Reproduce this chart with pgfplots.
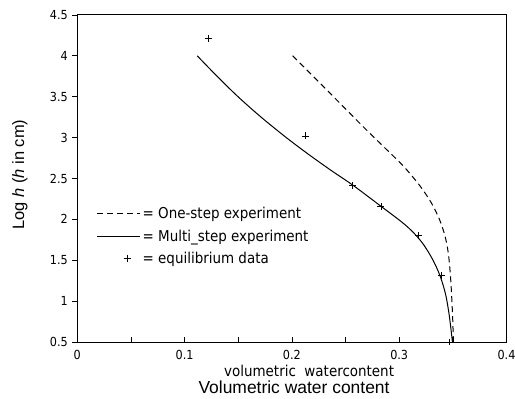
\documentclass[border=0pt]{standalone}
\usepackage{fontspec}
\setmainfont{Liberation Sans}
\newfontfamily\din{DejaVu Sans Condensed}
\usepackage{pgfplots}
\pgfplotsset{compat=1.18}
\pgfplotsset{
  lineleg/.style={legend image code/.code={\draw[##1] (0pt,0pt) -- (43pt,0pt);}},
  markleg/.style={legend image code/.code={\path[draw=none] (0pt,0pt) -- (43pt,0pt);\draw[##1] plot[only marks] coordinates {(30pt,0pt)};}},
}
\begin{document}
\begin{tikzpicture}[x=1pt,y=1pt]
\path[use as bounding box] (-77.5,-57) rectangle (439,343);
\begin{axis}[
  scale only axis, width=430.5pt, height=328pt,
  at={(0,0)}, anchor=south west,
  xmin=0, xmax=0.4, ymin=0.5, ymax=4.5,
  xtick={0,0.1,0.2,0.3,0.4},
  xticklabels={0,0.1,0.2,0.3,0.4},
  minor xtick={0.05,0.15,0.25,0.35},
  ytick={0.5,1,1.5,2,2.5,3,3.5,4,4.5},
  yticklabels={0.5,1,1.5,2,2.5,3,3.5,4,4.5},
  tick align=inside,
  xtick pos=bottom, ytick pos=left,
  major tick length=5pt, minor tick length=5pt,
  ytick style={xshift=-5pt},
  /pgf/number format/assume math mode=true,
  tick label style={font=\din\fontsize{12.5}{12.5}\selectfont},
  yticklabel style={xshift=-6pt},
  xticklabel style={yshift=-4.5pt},
  axis line style={line width=1pt},
  tick style={line width=0.8pt, black},
  clip=false,
  legend cell align=left,
  legend style={at={(rel axis cs:0.045,0.418)}, anchor=north west, draw=none, fill=none,
    font=\din\fontsize{15}{15}\selectfont, row sep=5.5pt, inner sep=0pt},
]
\addplot[black, line width=1pt, dash pattern=on 6pt off 4pt, smooth, lineleg]
  coordinates {
  (0.2007,4.00) (0.235,3.55) (0.269,3.10) (0.2995,2.71) (0.3074,2.60) (0.3199,2.40)
  (0.3300,2.20) (0.3375,2.00) (0.3426,1.80) (0.3456,1.60) (0.3472,1.40) (0.3483,1.20)
  (0.3491,1.00) (0.3498,0.80) (0.3505,0.50)
  };
\addlegendentry{= One-step experiment}
\addplot[black, line width=1pt, smooth, lineleg]
  coordinates {
  (0.1118,4.00) (0.1303,3.75) (0.1498,3.50) (0.1713,3.25) (0.1948,3.00) (0.215,2.80)
  (0.2364,2.60) (0.2566,2.42) (0.279,2.20) (0.2992,2.00) (0.3084,1.90) (0.316,1.80)
  (0.3222,1.70) (0.3272,1.60) (0.3315,1.50) (0.3352,1.40) (0.3383,1.30) (0.3408,1.20)
  (0.3429,1.10) (0.3445,1.00) (0.3469,0.80) (0.3496,0.50)
  };
\addlegendentry{= Multi\_step experiment}
\addplot[black, only marks, mark=+, mark size=3.5pt, line width=0.9pt, markleg]
  coordinates {
  (0.122,4.21) (0.213,3.02) (0.2566,2.415) (0.283,2.155) (0.3177,1.80) (0.339,1.31) (0.347,0.50)
  };
\addlegendentry{= equilibrium data}
\node[font=\din\fontsize{15}{15}\selectfont] at (rel axis cs:0.54,-0.088) {volumetric\ \ watercontent};
\node[font=\fontsize{17.5}{17.5}\selectfont] at (rel axis cs:0.505,-0.139) {Volumetric water content};
\node[rotate=90, font=\fontsize{16.5}{16.5}\selectfont] at (rel axis cs:-0.1336,0.512) {Log \textit{h} (\textit{h} in cm)};
\end{axis}
\end{tikzpicture}
\end{document}
